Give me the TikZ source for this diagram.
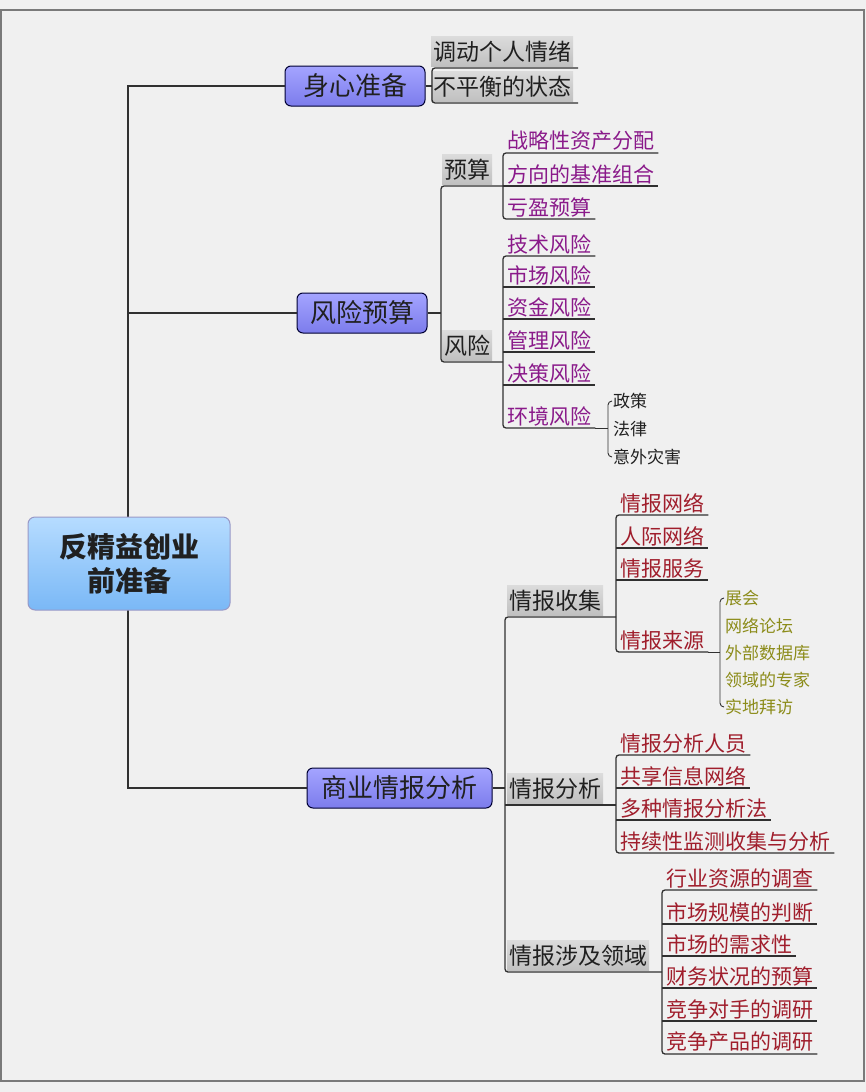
\documentclass[tikz,border=0pt]{standalone}
\usepackage{fontspec}
\setmainfont{Noto Sans CJK SC}
\definecolor{bg}{HTML}{F0F0F0}
\definecolor{framec}{HTML}{7A7A7A}
\definecolor{ln}{HTML}{303030}
\definecolor{purp}{HTML}{8A1A8A}
\definecolor{dred}{HTML}{A01E2C}
\definecolor{olive}{HTML}{8C8C1A}
\definecolor{txt}{HTML}{202020}
\definecolor{lonetop}{HTML}{A4A4FF}
\definecolor{lonebot}{HTML}{7C7CEC}
\definecolor{roottop}{HTML}{B6DCFF}
\definecolor{rootbot}{HTML}{7AB8F6}
\newcommand\fsz[1]{\fontsize{#1}{#1}\selectfont}
\begin{document}
\begin{tikzpicture}[x=1pt,y=-1pt,
  conn/.style={draw=ln, line width=1.3pt},
  thinconn/.style={draw=ln, line width=0.9pt},
  rc/.style={rounded corners=3pt},
  rootbox/.style={draw=black!55!blue!40, line width=1pt, rounded corners=7pt,
     top color=roottop, bottom color=rootbot, minimum width=202pt, minimum height=93pt,
     align=center, font=\fontsize{28}{34}\selectfont\bfseries, text=txt},
  lone/.style={draw=black!80!blue, line width=1pt, rounded corners=6pt,
     top color=lonetop, bottom color=lonebot, minimum height=40pt, inner xsep=13pt,
     font=\fsz{26}, text=txt},
  ltwo/.style={anchor=south west, top color=gray!28, bottom color=gray!50, draw=none,
     inner xsep=2pt, inner ysep=0pt, minimum height=30pt, font=\fsz{23}, text=txt},
  leafp/.style={anchor=south west, inner xsep=4pt, inner ysep=2pt, font=\fsz{21}, text=purp},
  leafr/.style={leafp, text=dred},
  small/.style={anchor=west, inner sep=1pt, font=\fsz{17}, text=txt},
  smallo/.style={small, text=olive}
]
\useasboundingbox (0,0) rectangle (866,1092);
\fill[bg] (0,0) rectangle (866,1092);
\draw[framec, line width=2pt] (1,10) rectangle (864,1081);

% level 1 nodes
\node[lone, minimum width=140pt] (a) at (355,86) {身心准备};
\node[lone, minimum width=130pt] (b) at (362,313) {风险预算};
\node[lone, minimum width=185pt] (c) at (399.5,788) {商业情报分析};

% trunk
\draw[conn] (a.west) -- (128,86) -- (128,788) -- (c.west);
\draw[conn] (128,313) -- (b.west);
\node[rootbox] (root) at (129,563.5) {反精益创业\\前准备};

% ---- 身心准备
\node[ltwo] (a1) at (431,67) {调动个人情绪};
\node[ltwo] (a2) at (431,102) {不平衡的状态};
\draw[conn] (a.east) -- (432,86);
\draw[conn,rc] (578,68) -- (432,68) -- (432,103) -- (578,103);

% ---- 风险预算
\node[ltwo] (b1) at (442,185) {预算};
\node[ltwo] (b2) at (442,361) {风险};
\draw[conn] (b.east) -- (441,313);
\draw[conn,rc] (503,186) -- (441,186) -- (441,362) -- (503,362);

\node[leafp] (b11) at (503,153) {战略性资产分配};
\node[leafp] (b12) at (503,186) {方向的基准组合};
\node[leafp] (b13) at (503,219) {亏盈预算};
\draw[conn,rc] (b11.south east) -- (b11.south west) -- (b13.south west) -- (b13.south east);
\draw[conn] (b12.south west) -- (b12.south east);

\node[leafp] (b21) at (503,256) {技术风险};
\node[leafp] (b22) at (503,287) {市场风险};
\node[leafp] (b23) at (503,319) {资金风险};
\node[leafp] (b24) at (503,352) {管理风险};
\node[leafp] (b25) at (503,385) {决策风险};
\node[leafp] (b26) at (503,428) {环境风险};
\draw[conn,rc] (b21.south east) -- (b21.south west) -- (b26.south west) -- (b26.south east);
\foreach \n in {b22,b23,b24,b25} \draw[conn] (\n.south west) -- (\n.south east);

\node[small] (s1) at (612,401) {政策};
\node[small] (s2) at (612,429) {法律};
\node[small] (s3) at (612,457) {意外灾害};
\draw[thinconn] (b26.south east) -- (608,428);
\draw[thinconn,rounded corners=4pt] (s1.west) -- (608,401) -- (608,457) -- (s3.west);

% ---- 商业情报分析
\node[ltwo] (c1) at (507,616) {情报收集};
\node[ltwo] (c2) at (507,804) {情报分析};
\node[ltwo] (c3) at (507,971) {情报涉及领域};
\draw[conn] (c.east) -- (505,788);
\draw[conn,rc] (616,617) -- (505,617) -- (505,972) -- (662,972);
\draw[conn] (505,805) -- (616,805);

\node[leafr] (c11) at (616,515) {情报网络};
\node[leafr] (c12) at (616,548) {人际网络};
\node[leafr] (c13) at (616,580) {情报服务};
\node[leafr] (c14) at (616,652) {情报来源};
\draw[conn,rc] (c11.south east) -- (c11.south west) -- (c14.south west) -- (c14.south east);
\foreach \n in {c12,c13} \draw[conn] (\n.south west) -- (\n.south east);

\node[smallo] (o1) at (724,598) {展会};
\node[smallo] (o2) at (724,626) {网络论坛};
\node[smallo] (o3) at (724,653) {外部数据库};
\node[smallo] (o4) at (724,680) {领域的专家};
\node[smallo] (o5) at (724,707) {实地拜访};
\draw[thinconn] (c14.south east) -- (720,652);
\draw[thinconn,rounded corners=4pt] (o1.west) -- (720,598) -- (720,707) -- (o5.west);

\node[leafr] (c21) at (616,755) {情报分析人员};
\node[leafr] (c22) at (616,788) {共享信息网络};
\node[leafr] (c23) at (616,820) {多种情报分析法};
\node[leafr] (c24) at (616,853) {持续性监测收集与分析};
\draw[conn,rc] (c21.south east) -- (c21.south west) -- (c24.south west) -- (c24.south east);
\foreach \n in {c22,c23} \draw[conn] (\n.south west) -- (\n.south east);

\node[leafr] (c31) at (662,890) {行业资源的调查};
\node[leafr] (c32) at (662,924) {市场规模的判断};
\node[leafr] (c33) at (662,956) {市场的需求性};
\node[leafr] (c34) at (662,988) {财务状况的预算};
\node[leafr] (c35) at (662,1021) {竞争对手的调研};
\node[leafr] (c36) at (662,1054) {竞争产品的调研};
\draw[conn,rc] (c31.south east) -- (c31.south west) -- (c36.south west) -- (c36.south east);
\foreach \n in {c32,c33,c34,c35} \draw[conn] (\n.south west) -- (\n.south east);
\end{tikzpicture}
\end{document}
